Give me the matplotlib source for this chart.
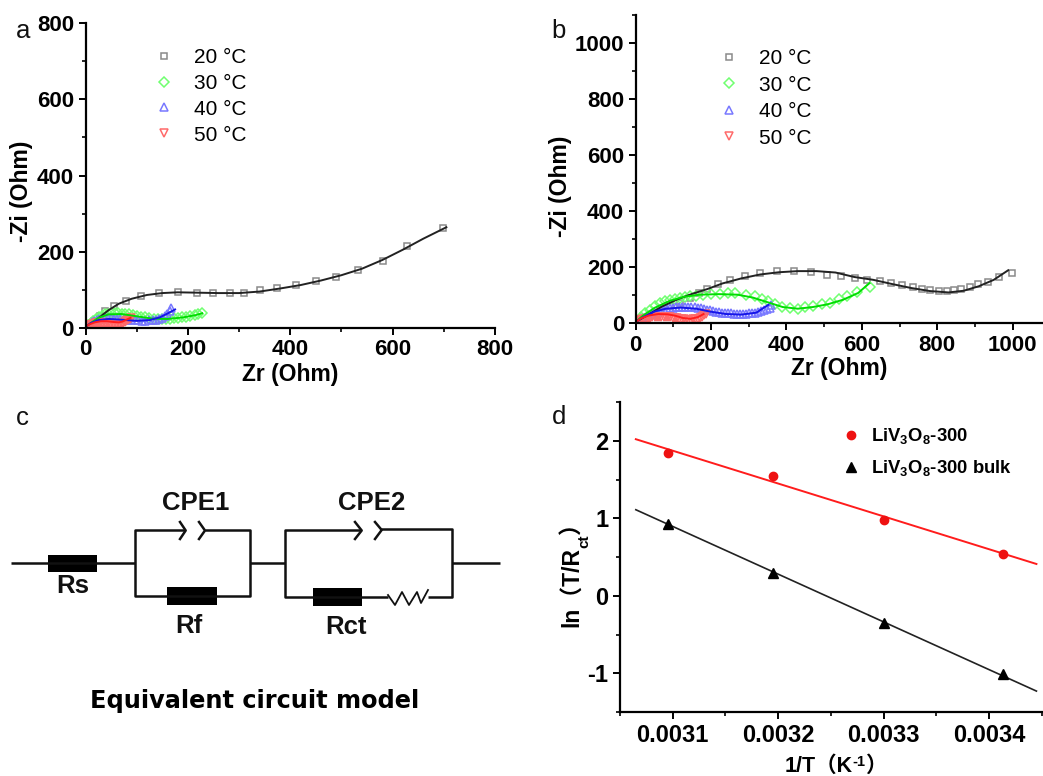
import matplotlib
matplotlib.use("Agg")
import matplotlib.pyplot as plt
from matplotlib.patches import Rectangle

plt.rcParams["font.family"] = ["Liberation Sans", "Noto Sans CJK SC", "DejaVu Sans"]
plt.rcParams["mathtext.fontset"] = "custom"
plt.rcParams["mathtext.default"] = "rm"
plt.rcParams["mathtext.rm"] = "Liberation Sans:bold"
plt.rcParams["mathtext.it"] = "Liberation Sans:bold"

W, H = 1043, 776

# -----------------------------
# Panel a data
# -----------------------------
temps = ["20 °C", "30 °C", "40 °C", "50 °C"]

a20_x = [28, 38, 56, 79, 108, 143, 181, 217, 250, 282, 310, 340, 374, 411, 451, 489, 532, 582, 628, 699]
a20_y = [31, 44, 58, 70, 83, 90, 93, 92, 90, 90, 92, 98, 104, 113, 124, 133, 151, 176, 215, 263]
a20_fit_x = [28, 45, 65, 90, 120, 150, 180, 220, 260, 300, 340, 380, 420, 460, 500, 540, 580, 620, 660, 705]
a20_fit_y = [28, 46, 63, 76, 86, 91, 93, 92, 91, 91, 95, 103, 112, 124, 138, 155, 178, 205, 234, 264]

a30_x = [5, 10, 15, 20, 26, 32, 38, 44, 50, 57, 64, 71, 78, 85, 93, 101, 109, 117, 125, 133, 141, 149, 157, 165, 173, 181, 189, 197, 205, 213, 220, 228]
a30_y = [6, 12, 18, 24, 28, 32, 35, 37, 38, 38, 38, 37, 36, 35, 33, 31, 29, 27, 25, 24, 23, 23, 24, 24, 25, 26, 27, 29, 31, 33, 35, 38]
a30_fit_x = [0, 10, 25, 45, 70, 100, 130, 160, 190, 215, 228]
a30_fit_y = [2, 12, 26, 35, 36, 30, 24, 23, 27, 33, 38]

a40_x = [4, 8, 12, 17, 22, 27, 32, 38, 44, 50, 56, 62, 68, 75, 82, 89, 96, 103, 110, 117, 124, 131, 138, 144, 150, 155, 160, 165, 168]
a40_y = [4, 9, 14, 18, 21, 23, 24, 25, 25, 25, 24, 24, 23, 22, 21, 20, 19, 19, 18, 18, 19, 20, 21, 23, 26, 30, 36, 45, 52]
a40_fit_x = [0, 10, 25, 45, 70, 100, 125, 145, 160, 175]
a40_fit_y = [2, 12, 20, 23, 21, 18, 20, 27, 37, 48]

a50_x = [2, 5, 8, 11, 14, 17, 20, 23, 26, 29, 32, 35, 38, 41, 44, 47, 50, 53, 56, 59, 62, 65, 68, 71, 74, 77, 80, 83, 86, 89]
a50_y = [2, 4, 6, 8, 10, 11, 12, 13, 13, 13, 13, 12, 12, 11, 11, 10, 10, 9, 9, 9, 9, 9, 10, 11, 12, 14, 17, 20, 23, 26]
a50_fit_x = [0, 8, 18, 30, 42, 55, 65, 72, 80, 88]
a50_fit_y = [3, 9, 14, 17, 17, 15, 14, 16, 21, 26]

# -----------------------------
# Panel b data
# -----------------------------
b20_x = [20, 40, 65, 90, 117, 144, 167, 190, 217, 250, 290, 330, 376, 421, 466, 507, 545, 581, 614, 647, 678, 706, 735, 759, 782, 805, 827, 844, 864, 886, 908, 935, 963, 999]
b20_y = [15, 30, 45, 60, 72, 90, 108, 123, 139, 156, 170, 181, 187, 187, 182, 173, 167, 161, 155, 150, 144, 136, 130, 124, 118, 116, 116, 117, 122, 129, 139, 148, 164, 181]
b20_fit_x = [0, 30, 70, 110, 150, 190, 230, 280, 330, 380, 430, 480, 530, 580, 630, 680, 730, 780, 830, 870, 910, 950, 988]
b20_fit_y = [5, 28, 60, 85, 105, 122, 142, 160, 174, 182, 186, 186, 181, 165, 155, 140, 126, 115, 110, 116, 132, 155, 189]

b30_x = [13, 25, 38, 51, 65, 78, 91, 104, 118, 131, 144, 161, 179, 201, 224, 244, 263, 293, 317, 334, 352, 370, 387, 409, 430, 449, 471, 493, 515, 538, 560, 586, 622]
b30_y = [24, 36, 48, 60, 72, 78, 84, 87, 90, 93, 96, 98, 100, 103, 105, 107, 108, 102, 96, 86, 78, 68, 57, 54, 51, 57, 62, 68, 74, 87, 96, 110, 129]
b30_fit_x = [0, 20, 50, 90, 130, 170, 220, 270, 310, 350, 390, 430, 470, 510, 550, 590, 620]
b30_fit_y = [5, 28, 55, 80, 95, 102, 104, 102, 92, 75, 58, 52, 58, 68, 84, 108, 143]

b40_x = [5, 12, 20, 28, 36, 44, 52, 60, 68, 76, 84, 92, 100, 108, 116, 124, 132, 140, 148, 156, 164, 172, 180, 188, 196, 204, 212, 220, 228, 236, 244, 252, 260, 268, 276, 284, 292, 300, 308, 316, 324, 332, 340, 348, 356, 360]
b40_y = [6, 12, 18, 24, 29, 34, 38, 42, 46, 48, 51, 53, 55, 57, 58, 59, 59, 58, 58, 57, 55, 53, 51, 48, 46, 44, 42, 40, 38, 37, 36, 35, 34, 34, 34, 34, 34, 35, 36, 38, 40, 43, 46, 50, 56, 64]
b40_fit_x = [0, 20, 50, 80, 120, 160, 200, 240, 280, 320, 352]
b40_fit_y = [5, 22, 42, 52, 56, 52, 41, 33, 31, 38, 66]

b50_x = [3, 8, 14, 20, 26, 32, 38, 44, 50, 56, 62, 68, 74, 80, 86, 92, 98, 104, 110, 116, 122, 128, 134, 140, 146, 152, 158, 164, 170, 176, 182, 186]
b50_y = [4, 8, 11, 14, 16, 18, 20, 21, 22, 22, 23, 23, 23, 22, 22, 21, 20, 19, 18, 16, 15, 14, 13, 13, 13, 14, 15, 17, 20, 24, 28, 34]
b50_fit_x = [0, 15, 35, 60, 85, 105, 125, 145, 165, 180]
b50_fit_y = [5, 18, 28, 33, 32, 27, 19, 16, 22, 33]

# -----------------------------
# Panel d data
# -----------------------------
inv_t = [0.003096, 0.003195, 0.003300, 0.003413]
ln_red = [1.84, 1.55, 0.98, 0.54]
ln_black = [0.93, 0.30, -0.35, -1.01]
fit_x = [0.003065, 0.003445]
fit_red = [2.02, 0.41]
fit_black = [1.11, -1.23]

# -----------------------------
# Circuit drawing (pixel coordinates)
# -----------------------------
wires = [
    ([11, 135], [563, 563]),
    ([250, 285], [563, 563]),
    ([452, 500], [563, 563]),
    ([185, 135, 135, 250, 250, 205], [530, 530, 596, 596, 530, 530]),
    ([361, 285, 285, 388], [530, 530, 597, 597]),
    ([381, 452, 452, 428], [529, 529, 597, 597]),
]
zigzag_x = [388, 395, 402, 409, 417, 421, 428]
zigzag_y = [595, 605, 592, 605, 592, 603, 590]
boxes = [(48, 555, 49, 17), (167, 587, 50, 18), (313, 588, 49, 18)]
chevrons = [
    ([180, 185.7, 180], [522, 530.5, 539]),
    ([199, 205, 199], [522, 530.5, 539]),
    ([355, 361.7, 355], [522, 530.5, 539]),
    ([375, 381.7, 375], [522, 530, 539]),
]
circuit_labels = [
    ("CPE1", 196, 503), ("CPE2", 372, 503),
    ("Rs", 73, 586), ("Rf", 189, 626), ("Rct", 346, 627),
]


def px_axes(fig, left, right, top, bottom):
    return fig.add_axes([left / W, 1 - bottom / H, (right - left) / W, (bottom - top) / H])


def style_axes(ax, tick_size):
    ax.spines["top"].set_visible(False)
    ax.spines["right"].set_visible(False)
    ax.spines["left"].set_linewidth(1.6)
    ax.spines["bottom"].set_linewidth(1.6)
    ax.tick_params(which="major", length=5.3, width=1.4, labelsize=tick_size, pad=3)
    ax.tick_params(which="minor", length=3, width=1.2)
    for lab in ax.get_xticklabels() + ax.get_yticklabels():
        lab.set_fontweight("bold")


def plot_nyquist(ax, series):
    styles = [("s", "#8a8a8a", "#222222", 5.0), ("D", "#70ff70", "#00dd00", 5.0),
              ("^", "#7878ff", "#1515e8", 5.5), ("v", "#ff6a6a", "#ff1c1c", 5.5)]
    for (mx, my, fx, fy), label, (m, mc, lc, ms) in zip(series, temps, styles):
        ax.plot(mx, my, ls="none", marker=m, ms=ms, mfc="none", mec=mc, mew=1.1, label=label)
    for (mx, my, fx, fy), (m, mc, lc, ms) in zip(series, styles):
        ax.plot(fx, fy, color=lc, lw=1.4, solid_joinstyle="round")


fig = plt.figure(figsize=(W / 100, H / 100), dpi=100)

# panel a
ax = px_axes(fig, 85.5, 495, 23.3, 327.7)
plot_nyquist(ax, [(a20_x, a20_y, a20_fit_x, a20_fit_y), (a30_x, a30_y, a30_fit_x, a30_fit_y),
                  (a40_x, a40_y, a40_fit_x, a40_fit_y), (a50_x, a50_y, a50_fit_x, a50_fit_y)])
ax.set_xlim(0, 800)
ax.set_ylim(0, 800)
ax.set_xticks([0, 200, 400, 600, 800])
ax.set_xticks([100, 300, 500, 700], minor=True)
ax.set_yticks([0, 200, 400, 600, 800])
ax.set_yticks([100, 300, 500, 700], minor=True)
style_axes(ax, 16)
ax.set_xlabel("Zr (Ohm)", fontsize=16.5, fontweight="bold", labelpad=2)
ax.set_ylabel("-Zi (Ohm)", fontsize=16.5, fontweight="bold", labelpad=3, y=0.449)
ax.legend(loc="upper left", bbox_to_anchor=(0.166, 0.919), frameon=False, fontsize=15,
          handlelength=1.0, handletextpad=0.94, labelspacing=0.33, borderpad=0, borderaxespad=0)

# panel b
ax = px_axes(fig, 635.7, 1041.7, 14.7, 323.3)
plot_nyquist(ax, [(b20_x, b20_y, b20_fit_x, b20_fit_y), (b30_x, b30_y, b30_fit_x, b30_fit_y),
                  (b40_x, b40_y, b40_fit_x, b40_fit_y), (b50_x, b50_y, b50_fit_x, b50_fit_y)])
ax.set_xlim(0, 1077)
ax.set_ylim(0, 1100)
ax.set_xticks([0, 200, 400, 600, 800, 1000])
ax.set_xticks([100, 300, 500, 700, 900], minor=True)
ax.set_yticks([0, 200, 400, 600, 800, 1000])
ax.set_yticks([100, 300, 500, 700, 900, 1100], minor=True)
style_axes(ax, 16)
ax.set_xlabel("Zr (Ohm)", fontsize=16.5, fontweight="bold", labelpad=1)
ax.set_ylabel("-Zi (Ohm)", fontsize=16.5, fontweight="bold", labelpad=2, y=0.445)
ax.legend(loc="upper left", bbox_to_anchor=(0.205, 0.888), frameon=False, fontsize=15,
          handlelength=1.0, handletextpad=0.94, labelspacing=0.36, borderpad=0, borderaxespad=0)

# panel d
ax = px_axes(fig, 620, 1041.7, 402, 712)
ax.plot(fit_x, fit_red, color="#ff1c1c", lw=1.4)
ax.plot(fit_x, fit_black, color="#222222", lw=1.2)
ax.plot(inv_t, ln_red, ls="none", marker="o", ms=6, color="#ee1111",
        label=r"LiV$_{3}$O$_{8}$-300")
ax.plot(inv_t, ln_black, ls="none", marker="^", ms=6.5, color="black",
        label=r"LiV$_{3}$O$_{8}$-300 bulk")
ax.set_xlim(0.003051, 0.00345)
ax.set_ylim(-1.5, 2.5)
ax.set_xticks([0.0031, 0.0032, 0.0033, 0.0034])
ax.set_xticklabels(["0.0031", "0.0032", "0.0033", "0.0034"])
ax.set_xticks([0.00305, 0.00315, 0.00325, 0.00335, 0.00345], minor=True)
ax.set_yticks([-1, 0, 1, 2])
ax.set_yticklabels(["-1", "0", "1", "2"])
ax.set_yticks([-1.5, -0.5, 0.5, 1.5, 2.5], minor=True)
style_axes(ax, 17)
ax.legend(loc="upper left", bbox_to_anchor=(0.5266, 0.921), frameon=False,
          prop={"size": 13.3, "weight": "bold"},
          handlelength=1.0, handletextpad=0.59, labelspacing=0.64, borderpad=0, borderaxespad=0)

# overlay for circuit, panel letters and the labels with subscripts, in pixel coordinates
ov = fig.add_axes([0, 0, 1, 1])
ov.set_xlim(0, W)
ov.set_ylim(H, 0)
ov.axis("off")
ov.patch.set_alpha(0)
for xs, ys in wires:
    ov.plot(xs, ys, color="#111111", lw=1.8, solid_capstyle="butt")
ov.plot(zigzag_x, zigzag_y, color="#111111", lw=1.3)
for xs, ys in chevrons:
    ov.plot(xs, ys, color="#111111", lw=1.8)
for x0, y0, w, h in boxes:
    ov.add_patch(Rectangle((x0, y0), w, h, color="black", lw=0))
for s, x, y in circuit_labels:
    ov.text(x, y, s, fontsize=18.5, fontweight="bold", ha="center", va="center", color="#111111")
ov.text(255, 701, "Equivalent circuit model", family="DejaVu Sans", fontsize=17.3, fontweight="bold",
        ha="center", va="center", color="black")
for s, x, y in [("a", 23, 31), ("b", 559, 31), ("c", 22, 418), ("d", 559, 417)]:
    ov.text(x, y, s, fontsize=18.5, ha="center", va="center", color="#111111")

# x label of panel d, in pieces so the full-width brackets can fall back to the CJK font
ov.text(785, 772, "1/T（K", fontsize=15.5, fontweight="bold", ha="left", va="baseline")
ov.text(852, 766, "-1", fontsize=10.5, fontweight="bold", ha="left", va="baseline")
ov.text(865, 772, "）", fontsize=15.5, fontweight="bold", ha="left", va="baseline")

# y label of panel d
ov.text(579, 627, "ln（T/R", fontsize=16.5, fontweight="bold", rotation=90, ha="left", va="baseline",
        rotation_mode="anchor")
ov.text(588, 548, "ct", fontsize=11, fontweight="bold", rotation=90, ha="left", va="baseline",
        rotation_mode="anchor")
ov.text(579, 534, "）", fontsize=16.5, fontweight="bold", rotation=90, ha="left", va="baseline",
        rotation_mode="anchor")

fig.savefig("out.png", dpi=100)
